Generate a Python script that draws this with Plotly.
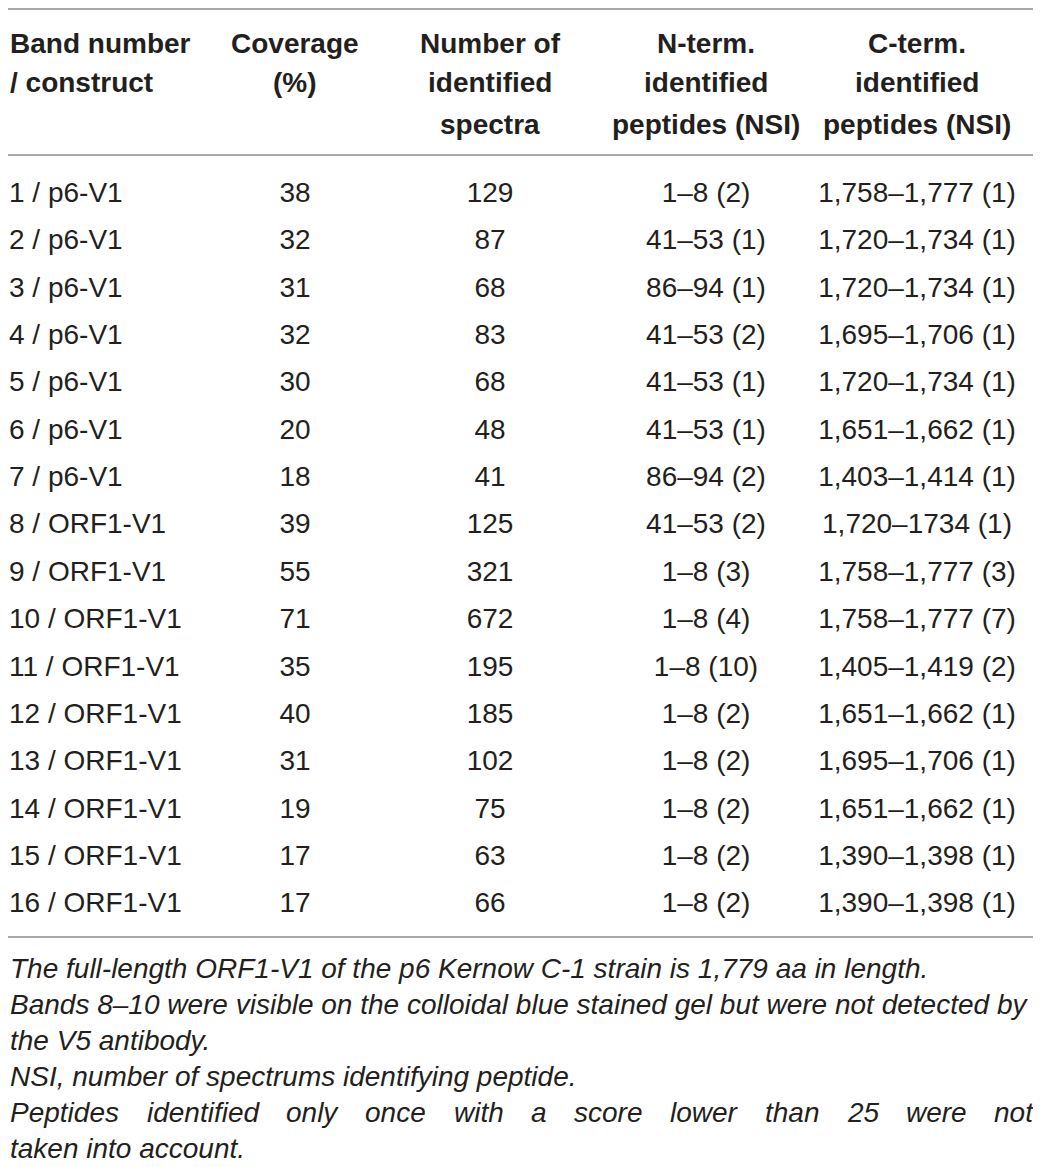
import plotly.graph_objects as go

# table content
bands = ["1 / p6-V1", "2 / p6-V1", "3 / p6-V1", "4 / p6-V1", "5 / p6-V1",
         "6 / p6-V1", "7 / p6-V1", "8 / ORF1-V1", "9 / ORF1-V1", "10 / ORF1-V1",
         "11 / ORF1-V1", "12 / ORF1-V1", "13 / ORF1-V1", "14 / ORF1-V1",
         "15 / ORF1-V1", "16 / ORF1-V1"]
coverage = [38, 32, 31, 32, 30, 20, 18, 39, 55, 71, 35, 40, 31, 19, 17, 17]
spectra = [129, 87, 68, 83, 68, 48, 41, 125, 321, 672, 195, 185, 102, 75, 63, 66]
n_term = ["1–8 (2)", "41–53 (1)", "86–94 (1)", "41–53 (2)", "41–53 (1)",
          "41–53 (1)", "86–94 (2)", "41–53 (2)", "1–8 (3)", "1–8 (4)",
          "1–8 (10)", "1–8 (2)", "1–8 (2)", "1–8 (2)", "1–8 (2)", "1–8 (2)"]
c_term = ["1,758–1,777 (1)", "1,720–1,734 (1)", "1,720–1,734 (1)",
          "1,695–1,706 (1)", "1,720–1,734 (1)", "1,651–1,662 (1)",
          "1,403–1,414 (1)", "1,720–1734 (1)", "1,758–1,777 (3)",
          "1,758–1,777 (7)", "1,405–1,419 (2)", "1,651–1,662 (1)",
          "1,695–1,706 (1)", "1,651–1,662 (1)", "1,390–1,398 (1)",
          "1,390–1,398 (1)"]

headers = [
    ["Band number", "/ construct"],
    ["Coverage", "(%)"],
    ["Number of", "identified", "spectra"],
    ["N-term.", "identified", "peptides (NSI)"],
    ["C-term.", "identified", "peptides (NSI)"],
]

footnotes = [
    "The full-length ORF1-V1 of the p6 Kernow C-1 strain is 1,779 aa in length.",
    "Bands 8–10 were visible on the colloidal blue stained gel but were not detected by",
    "the V5 antibody.",
    "NSI, number of spectrums identifying peptide.",
    "Peptides identified only once with a score lower than 25 were not",
    "taken into account.",
]

# all positions below are page pixels; the page body has an 8px margin
OFF = 8
W, H = 1041 - OFF, 1167 - OFF
TXT = "#231f20"
LINE = "#a8a8a8"
FONT = "Liberation Sans, Arial, sans-serif"
FS = 28
ROW0, PITCH = 195, 47.35
col_x = [9, 295, 490, 706, 917]

# Liberation Sans advance widths (per 1000 em), used to justify one line
ADV = {"P": 667, "e": 556, "p": 556, "t": 278, "i": 222, "d": 556, "s": 500,
       "n": 556, "f": 278, "o": 556, "l": 222, "y": 500, "c": 500, "w": 722,
       "h": 556, "a": 556, "r": 333, "2": 556, "5": 556}


def py(p):
    return 1 - (p - OFF) / H


def justify(words, left, right):
    widths = [sum(ADV.get(ch, 556) for ch in w) * FS / 1000 for w in words]
    gap = (right - left - sum(widths)) / (len(words) - 1)
    xs, x = [], left
    for w in widths:
        xs.append(x)
        x += w + gap
    return xs


rows = list(range(1, len(bands) + 1))

fig = go.Figure()
columns = [bands, coverage, spectra, n_term, c_term]
for i, vals in enumerate(columns):
    fig.add_trace(go.Scatter(
        x=[col_x[i]] * len(vals), y=rows, mode="text",
        text=[str(v) for v in vals],
        textposition="middle right" if i == 0 else "middle center",
        textfont=dict(family=FONT, size=FS, color=TXT),
        hoverinfo="skip", showlegend=False,
    ))

# header
head_y = [44, 83, 124]
for i, lines in enumerate(headers):
    for j, t in enumerate(lines):
        fig.add_annotation(
            x=8 if i == 0 else col_x[i], y=py(head_y[j]),
            xref="x", yref="paper", text="<b>" + t + "</b>", showarrow=False,
            xanchor="left" if i == 0 else "center", yanchor="middle",
            font=dict(family=FONT, size=FS, color=TXT),
        )

# footnotes (line 5 is justified, so its words are set one by one)
foot_y = [968, 1004, 1040, 1076, 1112, 1148]
for k, (t, yy) in enumerate(zip(footnotes, foot_y)):
    if k == 4:
        words = t.split(" ")
        pieces = list(zip(words, justify(words, 8, 1031)))
    else:
        pieces = [(t, 8)]
    for txt, xx in pieces:
        fig.add_annotation(
            x=xx, y=py(yy), xref="x", yref="paper", text="<i>" + txt + "</i>",
            showarrow=False, xanchor="left", yanchor="middle",
            font=dict(family=FONT, size=FS, color=TXT),
        )

# rules
for p in [OFF + 1, 155, 937]:
    fig.add_shape(type="line", xref="x", yref="paper", x0=OFF, x1=1034,
                  y0=py(p), y1=py(p), line=dict(color=LINE, width=2))

top = 1 + (OFF - ROW0) / PITCH
bottom = 1 + (1167 - ROW0) / PITCH
fig.update_layout(
    width=W, height=H, margin=dict(l=0, r=0, t=0, b=0),
    plot_bgcolor="white", paper_bgcolor="white",
    xaxis=dict(range=[OFF, 1041], visible=False, fixedrange=True),
    yaxis=dict(range=[bottom, top], visible=False, fixedrange=True),
)

fig.write_html("out.html")
